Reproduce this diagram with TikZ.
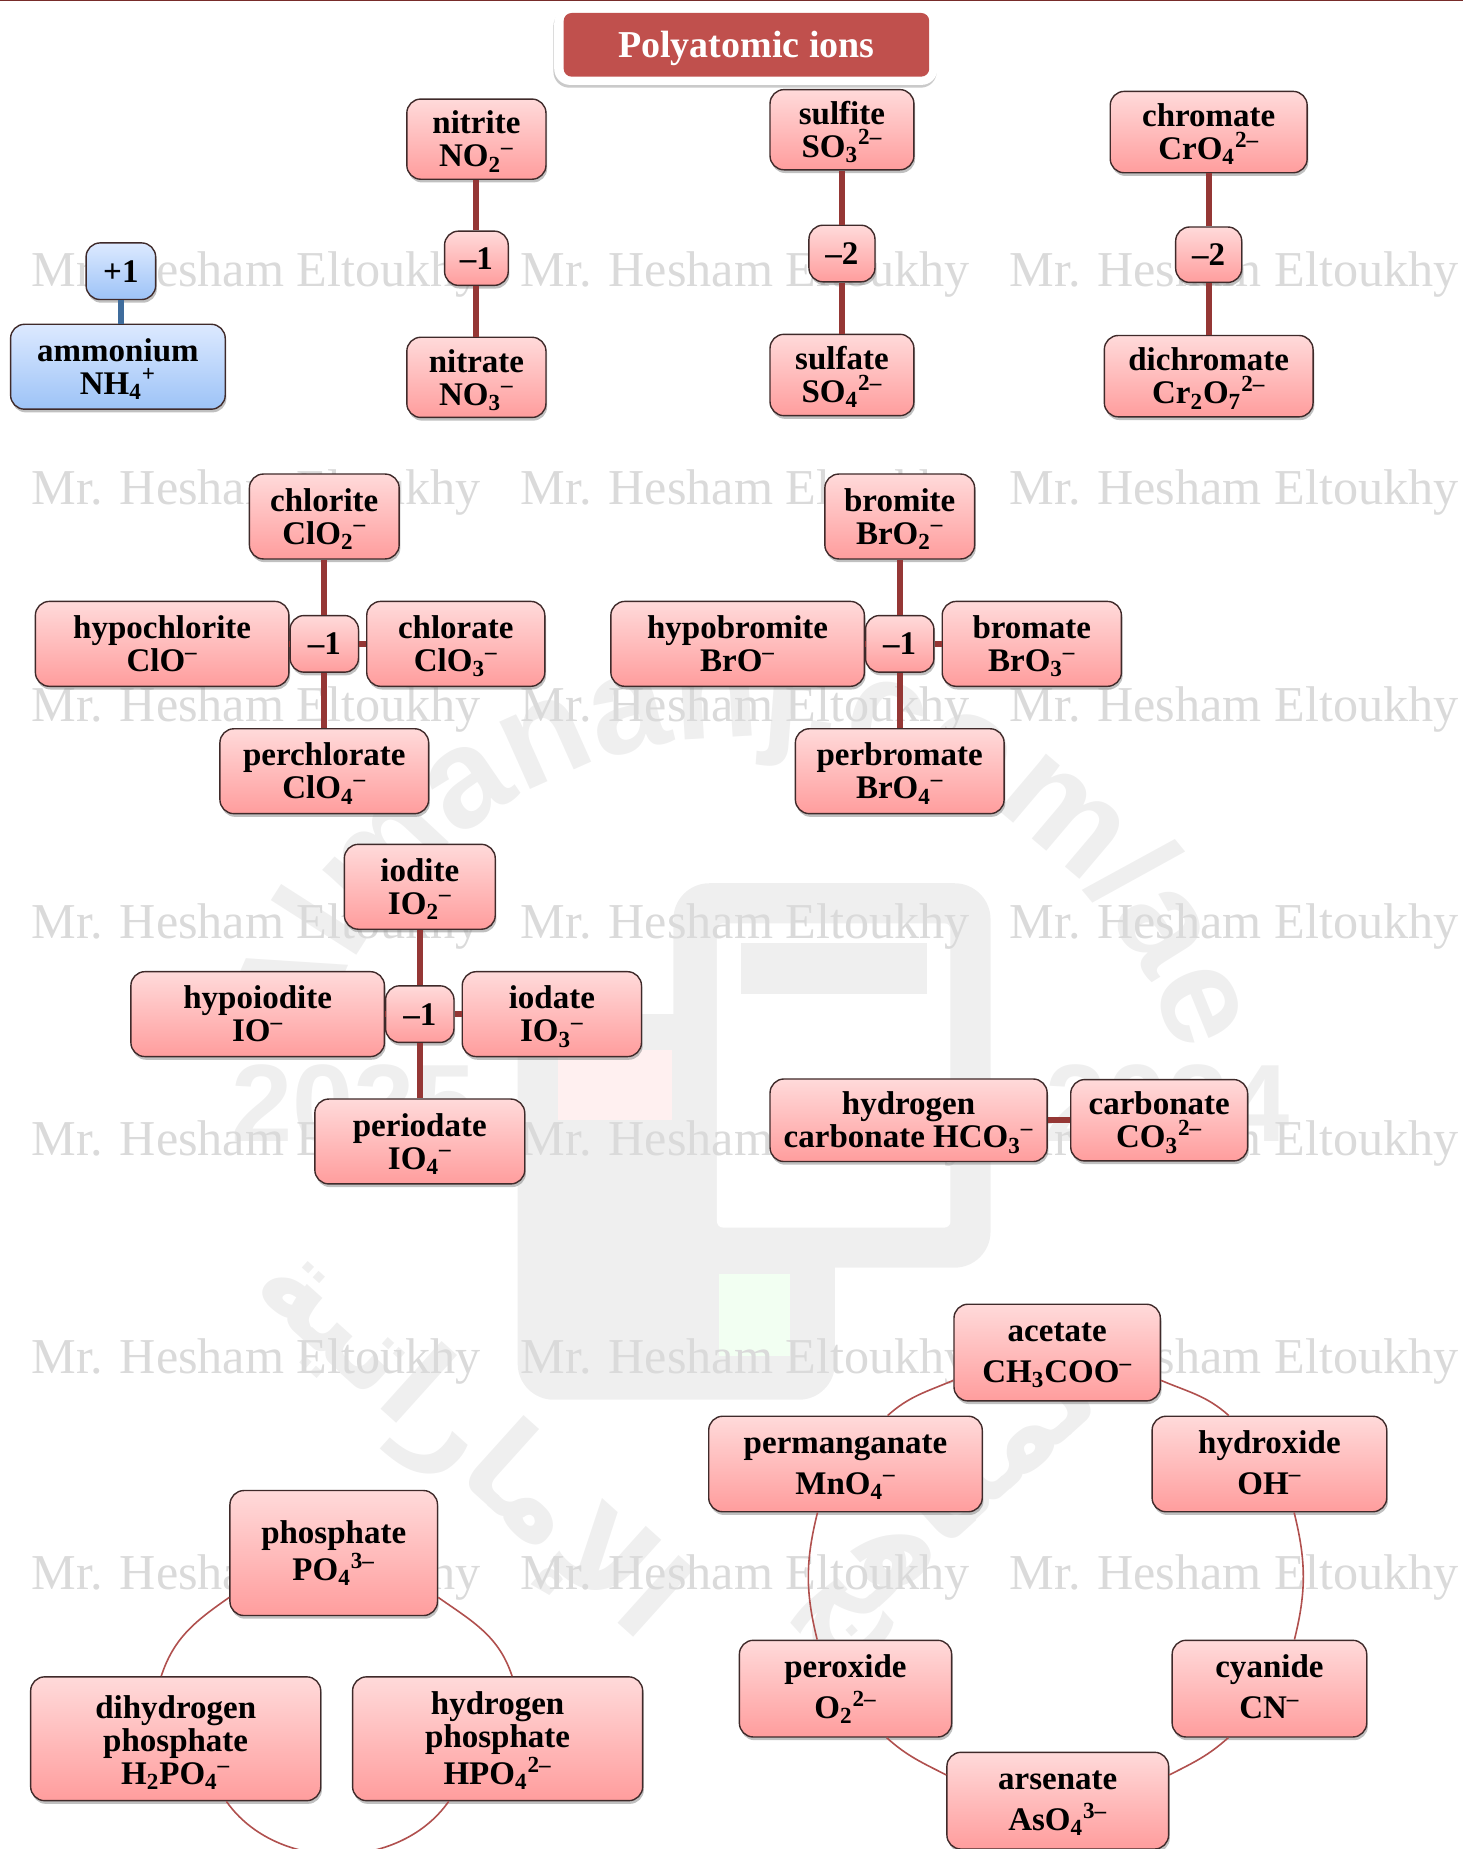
\documentclass[tikz,border=0pt]{standalone}
\usepackage{fontspec}
\setmainfont{Liberation Serif}
\newfontfamily\wmsans{Liberation Sans}
\newfontfamily\arabicfont[Script=Arabic]{DejaVu Sans}
\TeXXeTstate=1
\usepackage{tikz}
\usetikzlibrary{shadows, decorations.text}
\definecolor{pinktop}{HTML}{FFDADA}
\definecolor{pinkbot}{HTML}{FF9D9D}
\definecolor{bluetop}{HTML}{DCE9FF}
\definecolor{bluebot}{HTML}{9DC3F7}
\definecolor{boxedge}{HTML}{3F2A2A}
\definecolor{bondred}{HTML}{953735}
\definecolor{bondblue}{HTML}{3F6C9C}
\definecolor{ringred}{HTML}{B0504E}
\definecolor{titlered}{HTML}{C0504D}
\definecolor{wmtext}{HTML}{DADADA}
\definecolor{wmlogo}{HTML}{EFEFEF}
\newcommand{\subsup}[2]{\textsubscript{#1}\textsuperscript{#2}}
\tikzset{
    chargebox/.style 2 args={rectangle, rounded corners=7pt, draw=boxedge, line width=.7pt,
        top color=pinktop, bottom color=pinkbot,
        drop shadow={shadow xshift=.6pt, shadow yshift=-1.6pt, fill=black!45, opacity=.55},
        minimum width=#1*0.5895pt, minimum height=#2*0.5895pt, inner sep=0pt, align=center,
        font=\bfseries\fontsize{16.5}{16.5}\selectfont},
    ionbox/.style 2 args={chargebox={#1}{#2}, text height=27.7pt, text depth=0pt},
    ringbox/.style 2 args={ionbox={#1}{#2}, text height=30pt, font=\bfseries\fontsize{16.5}{20.4}\selectfont},
    triobox/.style 2 args={ionbox={#1}{#2}, text height=46pt},
    plusbox/.style 2 args={chargebox={#1}{#2}, top color=bluetop, bottom color=bluebot},
    bluebox/.style 2 args={ionbox={#1}{#2}, top color=bluetop, bottom color=bluebot},
    bond/.style={line width=3pt, draw=bondred},
    ring/.style={line width=.8pt, draw=ringred},
    wmname/.style={anchor=base, text=wmtext, font=\fontsize{25.1}{25.1}\selectfont}
}
\begin{document}
\begin{tikzpicture}[x=0.5895pt, y=-0.5895pt]
    \useasboundingbox (0,0) rectangle (1241,1568);

    \fill[wmlogo, rounded corners=18pt] (439,860) rectangle (708,1187);
    \fill[wmlogo, rounded corners=18pt] (571,749) rectangle (840,1075);
    \fill[white, rounded corners=3pt] (608,783) rectangle (806,1041);
    \fill[wmlogo] (628,800) rectangle (786,843);
    \fill[red!6] (473,890) rectangle (570,950);
    \fill[green!5] (610,1080) rectangle (670,1150);
    \path[decorate, decoration={text along path, text align=center, text color=wmlogo,
        text={|\wmsans\bfseries\fontsize{70}{70}\selectfont|Almanahj.com/ae}}]
        (632,1010) ++(-172:385) arc (-172:-8:385);
    \node[text=wmlogo, font=\wmsans\bfseries\fontsize{55}{55}\selectfont] (yearleft) at (300,936) {2025};
    \node[text=wmlogo, font=\wmsans\bfseries\fontsize{55}{55}\selectfont] (yearright) at (990,936) {2024};
    \node[text=wmlogo, rotate=-42, font=\arabicfont\bfseries\fontsize{60}{60}\selectfont] (wmleft) at (395,1225) {\beginR الإماراتية\endR};
    \node[text=wmlogo, rotate=42, font=\arabicfont\bfseries\fontsize{60}{60}\selectfont] (wmright) at (810,1270) {\beginR المناهج\endR};
    \foreach \rowy in {243,428,612,796,980,1165,1348}
        \foreach \colx in {217.5,632,1046.5}
            \node[wmname] (wm\rowy-\colx) at (\colx,\rowy) {Mr. Hesham Eltoukhy};

    \draw[line width=1.2pt, bondred!80!black] (0,0) -- (1241,0);

    \node[rectangle, rounded corners=8pt, fill=white, minimum width=325*0.5895pt, minimum height=66*0.5895pt,
        drop shadow={shadow xshift=-.4pt, shadow yshift=-1.4pt, fill=black!35, opacity=.6}] (titleback) at (632.5,39) {};
    \node[rectangle, rounded corners=4pt, fill=titlered, text=white, minimum width=310*0.5895pt, minimum height=54*0.5895pt,
        inner sep=0pt, text depth=0pt, font=\bfseries\fontsize{19}{19}\selectfont] (title) at (633,38) {Polyatomic ions};

    \node[plusbox={59}{48}] (plusone) at (102.5,230) {+1};
    \node[bluebox={182}{72}] (ammonium) at (100,311) {ammonium\\NH\subsup{4}{+}};
    \draw[line width=3pt, draw=bondblue] (plusone.south) -- (plusone.south |- ammonium.north);

    \node[ionbox={118}{68}] (nitrite) at (404,118) {nitrite\\NO\subsup{2}{--}};
    \node[chargebox={54}{46}] (nitrogen) at (404,219) {--1};
    \node[ionbox={118}{68}] (nitrate) at (404,320) {nitrate\\NO\subsup{3}{--}};
    \draw[bond] (nitrite) -- (nitrogen);
    \draw[bond] (nitrogen) -- (nitrate);

    \node[ionbox={122}{68}] (sulfite) at (714,110) {sulfite\\SO\subsup{3}{2--}};
    \node[chargebox={56}{48}] (sulfur) at (714,215) {--2};
    \node[ionbox={122}{69}] (sulfate) at (714,318) {sulfate\\SO\subsup{4}{2--}};
    \draw[bond] (sulfite) -- (sulfur);
    \draw[bond] (sulfur) -- (sulfate);

    \node[ionbox={167}{69}] (chromate) at (1025,112) {chromate\\CrO\subsup{4}{2--}};
    \node[chargebox={56}{47}] (chromium) at (1025,216) {--2};
    \node[ionbox={177}{69}] (dichromate) at (1025,319) {dichromate\\Cr\textsubscript{2}O\subsup{7}{2--}};
    \draw[bond] (chromate) -- (chromium);
    \draw[bond] (chromium) -- (dichromate);

    \node[ionbox={127}{72}] (chlorite) at (275,438) {chlorite\\ClO\subsup{2}{--}};
    \node[ionbox={215}{72}] (hypochlorite) at (137.5,546) {hypochlorite\\ClO\textsuperscript{--}};
    \node[chargebox={58}{48}] (chlorine) at (275,546) {--1};
    \node[ionbox={151}{72}] (chlorate) at (386.5,546) {chlorate\\ClO\subsup{3}{--}};
    \node[ionbox={177}{72}] (perchlorate) at (275,654) {perchlorate\\ClO\subsup{4}{--}};
    \draw[bond] (chlorite) -- (chlorine);
    \draw[bond] (chlorine) -- (perchlorate);
    \draw[bond] (hypochlorite) -- (chlorine);
    \draw[bond] (chlorine) -- (chlorate);

    \node[ionbox={127}{72}] (bromite) at (763,438) {bromite\\BrO\subsup{2}{--}};
    \node[ionbox={215}{72}] (hypobromite) at (625.5,546) {hypobromite\\BrO\textsuperscript{--}};
    \node[chargebox={58}{48}] (bromine) at (763,546) {--1};
    \node[ionbox={152}{72}] (bromate) at (875,546) {bromate\\BrO\subsup{3}{--}};
    \node[ionbox={177}{72}] (perbromate) at (763,654) {perbromate\\BrO\subsup{4}{--}};
    \draw[bond] (bromite) -- (bromine);
    \draw[bond] (bromine) -- (perbromate);
    \draw[bond] (hypobromite) -- (bromine);
    \draw[bond] (bromine) -- (bromate);

    \node[ionbox={128}{72}] (iodite) at (356,752) {iodite\\IO\subsup{2}{--}};
    \node[ionbox={215}{72}] (hypoiodite) at (218.5,860) {hypoiodite\\IO\textsuperscript{--}};
    \node[chargebox={58}{48}] (iodine) at (356,860) {--1};
    \node[ionbox={152}{72}] (iodate) at (468,860) {iodate\\IO\subsup{3}{--}};
    \node[ionbox={178}{72}] (periodate) at (356,968) {periodate\\IO\subsup{4}{--}};
    \draw[bond] (iodite) -- (iodine);
    \draw[bond] (iodine) -- (periodate);
    \draw[bond] (hypoiodite) -- (iodine);
    \draw[bond] (iodine) -- (iodate);

    \node[ionbox={235}{70}] (bicarbonate) at (770.5,950) {hydrogen\\carbonate HCO\subsup{3}{--}};
    \node[ionbox={150}{69}] (carbonate) at (983,950) {carbonate\\CO\subsup{3}{2--}};
    \draw[bond] (bicarbonate) -- (carbonate);

    \node[ionbox={176}{106}] (phosphate) at (283,1317) {phosphate\\PO\subsup{4}{3--}};
    \node[triobox={246}{105}] (dihydrogen) at (149,1474.5) {dihydrogen\\phosphate\\H\textsubscript{2}PO\subsup{4}{--}};
    \node[triobox={246}{105}] (hydrogen) at (422,1474.5) {hydrogen\\phosphate\\HPO\subsup{4}{2--}};
    \draw[ring] (phosphate.-23) to[out=-35, in=108] (hydrogen.77);
    \draw[ring] (hydrogen.-128) to[out=-125, in=-55] (dihydrogen.-51);
    \draw[ring] (dihydrogen.103) to[out=72, in=-145] (phosphate.-157);

    \node[ringbox={175}{82}] (acetate) at (896.5,1147) {acetate\\CH\textsubscript{3}COO\textsuperscript{--}};
    \node[ringbox={199}{81}] (hydroxide) at (1076.5,1241.5) {hydroxide\\OH\textsuperscript{--}};
    \node[ringbox={165}{82}] (cyanide) at (1076.5,1432) {cyanide\\CN\textsuperscript{--}};
    \node[ringbox={188}{82}] (arsenate) at (897,1527) {arsenate\\AsO\subsup{4}{3--}};
    \node[ringbox={180}{82}] (peroxide) at (717,1432) {peroxide\\O\subsup{2}{2--}};
    \node[ringbox={232}{81}] (permanganate) at (717,1241.5) {permanganate\\MnO\subsup{4}{--}};
    \draw[ring] (acetate.-15) to[out=-23, in=138] (hydroxide.130);
    \draw[ring] (hydroxide.-63) to[out=-76, in=76] (cyanide.63);
    \draw[ring] (cyanide.-130) to[out=-138, in=27] (arsenate.13);
    \draw[ring] (arsenate.167) to[out=153, in=-42] (peroxide.-50);
    \draw[ring] (peroxide.120) to[out=104, in=-104] (permanganate.-120);
    \draw[ring] (permanganate.49) to[out=42, in=-157] (acetate.-165);
\end{tikzpicture}
\end{document}
